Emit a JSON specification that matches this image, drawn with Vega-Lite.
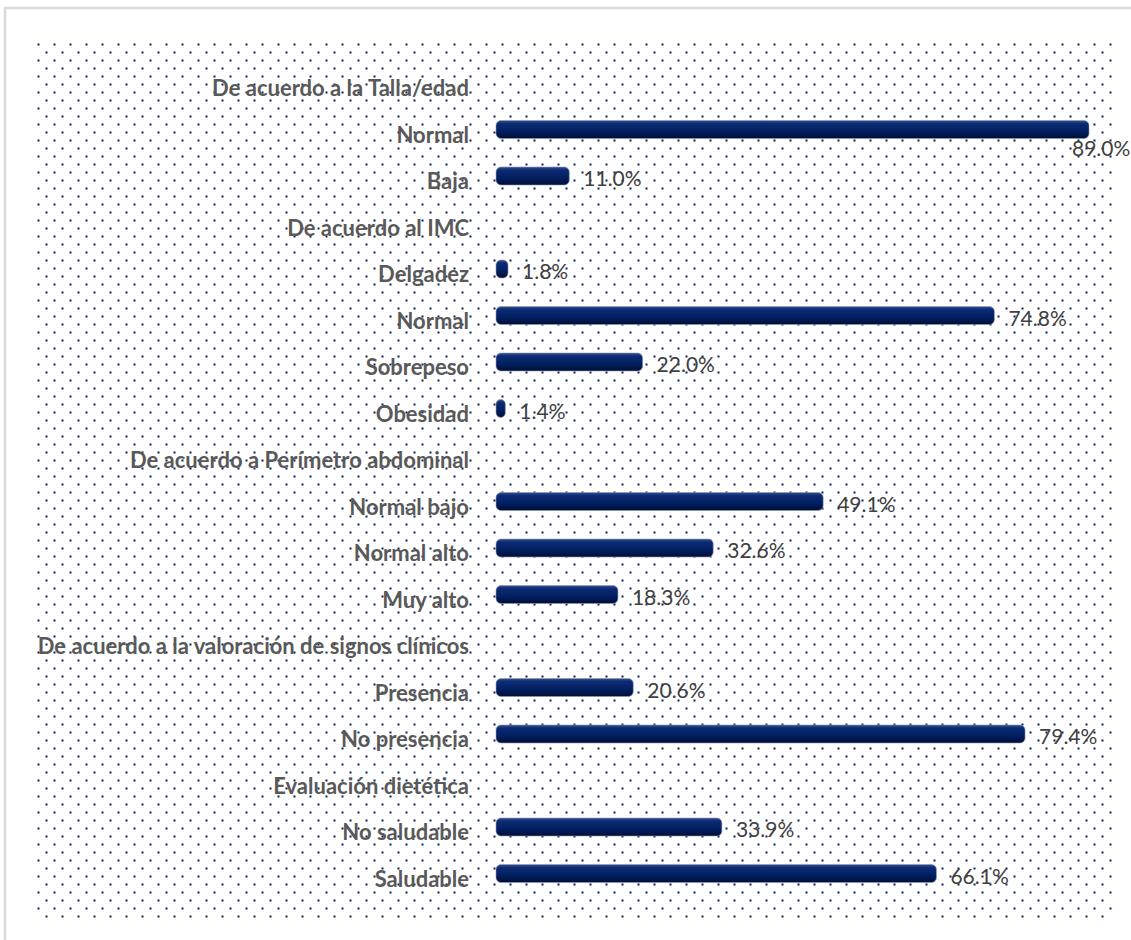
{
  "$schema": "https://vega.github.io/schema/vega-lite/v6.json",
  "width": 1076,
  "height": 872,
  "autosize": {"type": "none"},
  "padding": {"left": 37, "top": 44, "right": 18, "bottom": 24},
  "background": "white",
  "config": {"view": {"stroke": null}},
  "layer": [
    {
      "data": {"values": [{"frame": 1}]},
      "mark": {"type": "rect", "fill": null, "stroke": "#d9d9d9", "strokeWidth": 2.5},
      "encoding": {
        "x": {"datum": -0.7369, "type": "quantitative", "scale": {"domain": [-0.6889, 0.926], "nice": false, "zero": false}, "axis": null},
        "x2": {"datum": 1.0},
        "y": {
          "datum": -10, "type": "quantitative",
          "scale": {"domain": [0, 109], "nice": false, "zero": false},
          "axis": {
            "labels": false, "ticks": false, "domain": false, "title": null,
            "grid": true, "tickCount": 110,
            "gridColor": "#0d1f5c", "gridWidth": 2, "gridOpacity": 1,
            "gridDash": [2, 14],
            "gridDashOffset": {"condition": {"test": "datum.value % 2 === 1", "value": 0}, "value": 8}
          }
        },
        "y2": {"datum": 113.5}
      }
    },
    {
      "data": {
        "values": [
          {"key": "Talla/edad", "label": "De acuerdo a la Talla/edad", "value": null},
          {"key": "Talla/edad: Normal", "label": "Normal", "value": 0.890},
          {"key": "Talla/edad: Baja", "label": "Baja", "value": 0.110},
          {"key": "IMC", "label": "De acuerdo al IMC", "value": null},
          {"key": "IMC: Delgadez", "label": "Delgadez", "value": 0.018},
          {"key": "IMC: Normal", "label": "Normal", "value": 0.748},
          {"key": "IMC: Sobrepeso", "label": "Sobrepeso", "value": 0.220},
          {"key": "IMC: Obesidad", "label": "Obesidad", "value": 0.014},
          {"key": "Perímetro", "label": "De acuerdo a Perímetro abdominal", "value": null},
          {"key": "Perímetro: Normal bajo", "label": "Normal bajo", "value": 0.491},
          {"key": "Perímetro: Normal alto", "label": "Normal alto", "value": 0.326},
          {"key": "Perímetro: Muy alto", "label": "Muy alto", "value": 0.183},
          {"key": "Signos", "label": "De acuerdo a la valoración de signos clínicos", "value": null},
          {"key": "Signos: Presencia", "label": "Presencia", "value": 0.206},
          {"key": "Signos: No presencia", "label": "No presencia", "value": 0.794},
          {"key": "Dietética", "label": "Evaluación dietética", "value": null},
          {"key": "Dietética: No saludable", "label": "No saludable", "value": 0.339},
          {"key": "Dietética: Saludable", "label": "Saludable", "value": 0.661}
        ]
      },
      "encoding": {
        "y": {
          "field": "key", "type": "nominal", "sort": null, "axis": null,
          "scale": {
            "type": "band",
            "domain": ["Talla/edad", "Talla/edad: Normal", "Talla/edad: Baja", "IMC", "IMC: Delgadez", "IMC: Normal", "IMC: Sobrepeso", "IMC: Obesidad", "Perímetro", "Perímetro: Normal bajo", "Perímetro: Normal alto", "Perímetro: Muy alto", "Signos", "Signos: Presencia", "Signos: No presencia", "Dietética", "Dietética: No saludable", "Dietética: Saludable"],
            "range": [15.75, 852.75],
            "paddingInner": 0, "paddingOuter": 0
          }
        }
      },
      "layer": [
        {
          "transform": [{"filter": "datum.value != null"}],
          "mark": {
            "type": "bar", "height": 18, "cornerRadius": 5,
            "stroke": "#8e97b5", "strokeWidth": 0.6,
            "color": {
              "gradient": "linear", "x1": 0, "y1": 0, "x2": 0, "y2": 1,
              "stops": [
                {"offset": 0, "color": "#33508f"},
                {"offset": 0.18, "color": "#0b2a72"},
                {"offset": 0.55, "color": "#022165"},
                {"offset": 1, "color": "#000e36"}
              ]
            }
          },
          "encoding": {
            "x": {"field": "value", "type": "quantitative", "scale": {"domain": [-0.6889, 0.926], "nice": false, "zero": false}, "axis": null},
            "x2": {"datum": 0}
          }
        },
        {
          "mark": {"type": "text", "align": "right", "baseline": "middle", "dx": -27, "dy": 6, "font": "Lato", "fontSize": 22, "fontWeight": "bold", "color": "#595959"},
          "encoding": {
            "x": {"datum": 0, "type": "quantitative"},
            "text": {"field": "label", "type": "nominal"}
          }
        },
        {
          "transform": [{"filter": "datum.value != null && datum.value < 0.85"}],
          "mark": {"type": "text", "align": "left", "baseline": "middle", "dx": 14, "dy": 4, "font": "Lato", "fontSize": 21, "color": "#404040"},
          "encoding": {
            "x": {"field": "value", "type": "quantitative"},
            "text": {"field": "value", "type": "quantitative", "format": ".1%"}
          }
        },
        {
          "transform": [{"filter": "datum.value != null && datum.value >= 0.85"}],
          "mark": {"type": "text", "align": "left", "baseline": "middle", "dx": -17, "dy": 20, "font": "Lato", "fontSize": 21, "color": "#404040"},
          "encoding": {
            "x": {"field": "value", "type": "quantitative"},
            "text": {"field": "value", "type": "quantitative", "format": ".1%"}
          }
        }
      ]
    }
  ],
  "resolve": {"scale": {"y": "independent"}}
}
